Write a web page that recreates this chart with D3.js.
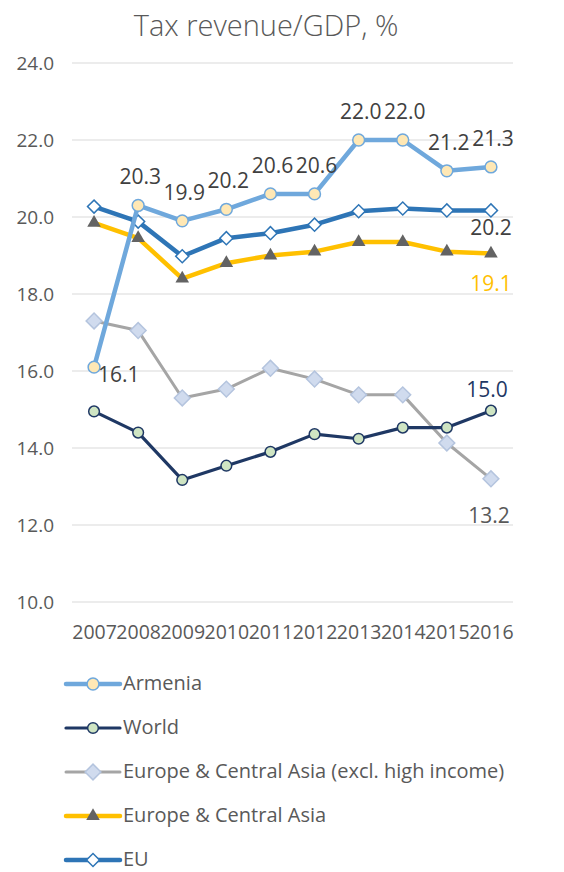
<!DOCTYPE html>
<html>
<head>
<meta charset="utf-8">
<script src="https://cdn.jsdelivr.net/npm/d3@7"></script>
<style>
  body { margin: 0; background: #fff; }
  text { font-family: "Open Sans", "Noto Sans", sans-serif; }
</style>
</head>
<body>
<script>
const w = 564, h = 872;

const years = ["2007", "2008", "2009", "2010", "2011", "2012", "2013", "2014", "2015", "2016"];
const yTicks = [10, 12, 14, 16, 18, 20, 22, 24];

const armenia = [16.1, 20.3, 19.9, 20.2, 20.6, 20.6, 22.0, 22.0, 21.2, 21.3];
const world = [14.95, 14.4, 13.17, 13.54, 13.9, 14.36, 14.24, 14.53, 14.53, 14.97];
const ecaExcl = [17.3, 17.05, 15.3, 15.53, 16.07, 15.79, 15.38, 15.38, 14.13, 13.2];
const eca = [19.85, 19.45, 18.4, 18.8, 19.0, 19.1, 19.35, 19.35, 19.1, 19.05];
const eu = [20.27, 19.88, 18.98, 19.45, 19.58, 19.8, 20.15, 20.22, 20.17, 20.17];

const seriesNames = ["Armenia", "World", "Europe & Central Asia (excl. high income)", "Europe & Central Asia", "EU"];

// drawing order: back to front
const series = [
    { name: seriesNames[2], values: ecaExcl, color: "#a5a5a5", width: 3, marker: "diamond", fill: "#d0dbee", stroke: "#b4c4de", size: 125 },
    { name: seriesNames[1], values: world, color: "#1f3864", width: 3.2, marker: "circle", fill: "#cfe5c3", stroke: "#1f3864", size: 90 },
    { name: seriesNames[3], values: eca, color: "#ffc000", width: 4.5, marker: "triangle", fill: "#636363", stroke: "#636363", size: 80 },
    { name: seriesNames[4], values: eu, color: "#2e75b6", width: 4.5, marker: "diamond", fill: "#ffffff", stroke: "#2e75b6", size: 85 },
    { name: seriesNames[0], values: armenia, color: "#6fa8dc", width: 4.5, marker: "circle", fill: "#ffe8b5", stroke: "#6fa8dc", size: 110 }
];
const legendOrder = [4, 1, 0, 2, 3];

const symbolTypes = { circle: d3.symbolCircle, diamond: d3.symbolSquare, triangle: d3.symbolTriangle };

const svg = d3.select("body").append("svg")
    .attr("width", w)
    .attr("height", h);

const x = d3.scalePoint().domain(years).range([72, 513]).padding(0.5);
const y = d3.scaleLinear().domain([10, 24]).range([602, 63]);

function markerTransform(px, py, type) {
    return "translate(" + px + "," + py + ")" + (type === "diamond" ? " rotate(45)" : "");
}

// title
svg.append("text")
    .attr("x", 266).attr("y", 36)
    .attr("text-anchor", "middle")
    .attr("font-size", 29)
    .attr("font-weight", 300)
    .attr("fill", "#595959")
    .text("Tax revenue/GDP, %");

// gridlines
svg.append("g")
    .selectAll("line")
    .data(yTicks)
    .enter()
    .append("line")
    .attr("x1", 72).attr("x2", 513)
    .attr("y1", d => y(d)).attr("y2", d => y(d))
    .attr("stroke", "#d9d9d9")
    .attr("stroke-width", 1);

// y axis
const yAxis = svg.append("g")
    .attr("transform", "translate(54,0)")
    .call(d3.axisLeft(y).tickValues(yTicks).tickFormat(d3.format(".1f")).tickSize(0).tickPadding(0));
yAxis.select(".domain").remove();
yAxis.selectAll("text").attr("font-size", 19).attr("fill", "#595959").attr("font-family", "Open Sans");

// x axis
const xAxis = svg.append("g")
    .attr("transform", "translate(0,624)")
    .call(d3.axisBottom(x).tickSize(0).tickPadding(1));
xAxis.select(".domain").remove();
xAxis.selectAll("text").attr("font-size", 19.5).attr("fill", "#595959").attr("font-family", "Open Sans");

const line = d3.line()
    .x((d, i) => x(years[i]))
    .y(d => y(d));

series.forEach(s => {
    svg.append("path")
        .datum(s.values)
        .attr("fill", "none")
        .attr("stroke", s.color)
        .attr("stroke-width", s.width)
        .attr("stroke-linejoin", "round")
        .attr("d", line);
    svg.append("g")
        .selectAll("path")
        .data(s.values)
        .enter()
        .append("path")
        .attr("transform", (d, i) => markerTransform(x(years[i]), y(d), s.marker))
        .attr("d", d3.symbol().type(symbolTypes[s.marker]).size(s.size))
        .attr("fill", s.fill)
        .attr("stroke", s.stroke)
        .attr("stroke-width", s.marker === "triangle" ? 0 : 1.5);
});

// data labels
const labelFont = 21;
function addLabel(xv, yv, txt, dx, dy, color, anchor) {
    svg.append("text")
        .attr("x", x(xv) + dx)
        .attr("y", y(yv) + dy)
        .attr("text-anchor", anchor || "middle")
        .attr("font-size", labelFont)
        .attr("fill", color)
        .text(txt);
}
armenia.forEach((v, i) => {
    if (i === 0) {
        addLabel(years[i], v, d3.format(".1f")(v), 4, 15, "#404040", "start");
    } else {
        addLabel(years[i], v, d3.format(".1f")(v), 2, -21, "#404040");
    }
});
addLabel("2016", eu[9], d3.format(".1f")(20.2), 0, 25, "#404040");
addLabel("2016", eca[9], d3.format(".1f")(19.1), 0, 37, "#ffc000");
addLabel("2016", world[9], d3.format(".1f")(world[9]), -4, -14, "#1f3864");
addLabel("2016", ecaExcl[9], d3.format(".1f")(ecaExcl[9]), -2, 44, "#595959");

// legend
const legend = svg.append("g");
legendOrder.forEach((si, k) => {
    const s = series[si];
    const ly = 684 + k * 44;
    const g = legend.append("g").attr("transform", "translate(0," + ly + ")");
    g.append("line")
        .attr("x1", 66).attr("x2", 120)
        .attr("stroke", s.color)
        .attr("stroke-width", s.width)
        .attr("stroke-linecap", "round");
    g.append("path")
        .attr("transform", markerTransform(93, 0, s.marker))
        .attr("d", d3.symbol().type(symbolTypes[s.marker]).size(s.size))
        .attr("fill", s.fill)
        .attr("stroke", s.stroke)
        .attr("stroke-width", s.marker === "triangle" ? 0 : 1.5);
    g.append("text")
        .attr("x", 123).attr("y", 6)
        .attr("font-size", 20)
        .attr("fill", "#595959")
        .text(s.name);
});
</script>
</body>
</html>
